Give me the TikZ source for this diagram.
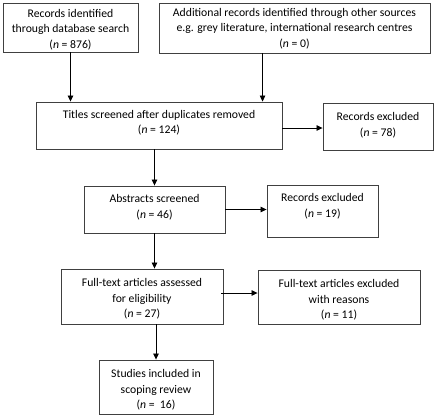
\documentclass[tikz,border=0pt]{standalone}
\usepackage{fontspec}
\setmainfont{Carlito}
\usetikzlibrary{arrows.meta}
\definecolor{boxline}{HTML}{404040}
\tikzset{
  box/.style={draw=boxline, line width=0.9pt, rectangle, inner sep=0pt},
  txt/.style={align=center, inner sep=0pt, font=\fontsize{11.7}{15.5}\selectfont},
  arr/.style={line width=0.8pt, -{Triangle[width=5.5pt,length=6pt]}}
}
\newcommand{\mkbox}[5]{% name x1 y1 x2 y2
  \node[box, minimum width={(#4-#2)*1pt}, minimum height={(#5-#3)*1pt}] (#1) at ({(#2+#4)/2},{(#3+#5)/2}) {};}
\begin{document}
\begin{tikzpicture}[x=1pt,y=-1pt]
\useasboundingbox (0,0) rectangle (435,415);
\mkbox{A}{3}{3}{138}{52}
\mkbox{B}{159}{3}{430}{53}
\mkbox{C}{36}{102}{282}{149}
\mkbox{D}{323}{103}{433}{150}
\mkbox{E}{84}{186}{225}{233}
\mkbox{F}{267}{185}{378}{237}
\mkbox{G}{61}{269}{223}{324}
\mkbox{H}{258}{270}{420}{324}
\mkbox{I}{99}{360}{213}{414}
\node[txt] (tA) at (70.5,29.5) {Records identified\\through database search\\(\textit{n} = 876)};
\node[txt] (tB) at (294.5,28.5) {Additional records identified through other sources\\e.g. grey literature, international research centres\\(\textit{n} = 0)};
\node[txt] (tC) at (159,122.5) {Titles screened after duplicates removed\\(\textit{n} = 124)};
\node[txt] (tD) at (378,125) {Records excluded\\(\textit{n} = 78)};
\node[txt] (tE) at (154.5,207) {Abstracts screened\\(\textit{n} = 46)};
\node[txt] (tF) at (322.5,206) {Records excluded\\(\textit{n} = 19)};
\node[txt] (tG) at (142,299) {Full-text articles assessed\\for eligibility\\(\textit{n} = 27)};
\node[txt] (tH) at (339,300) {Full-text articles excluded\\with reasons\\(\textit{n} = 11)};
\node[txt] (tI) at (156,390) {Studies included in\\scoping review\\(\textit{n} =\ \ 16)};
\draw[arr] (A.south) -- (A.south |- C.north);
\draw[arr] ([xshift=104pt]B.south west) -- ([xshift=104pt]B.south west |- C.north);
\draw[arr] ([yshift=-2.5pt]C.east) -- ([yshift=-2.5pt]C.east -| D.west);
\draw[arr] (E.north |- C.south) -- (E.north);
\draw[arr] (E.east) -- (E.east -| F.west);
\draw[arr] (E.south) -- (E.south |- G.north);
\draw[arr] ([xshift=-2pt,yshift=3.5pt]G.east) -- ([yshift=3.5pt]G.east -| H.west);
\draw[arr] (I.north |- G.south) -- (I.north);
\end{tikzpicture}
\end{document}
